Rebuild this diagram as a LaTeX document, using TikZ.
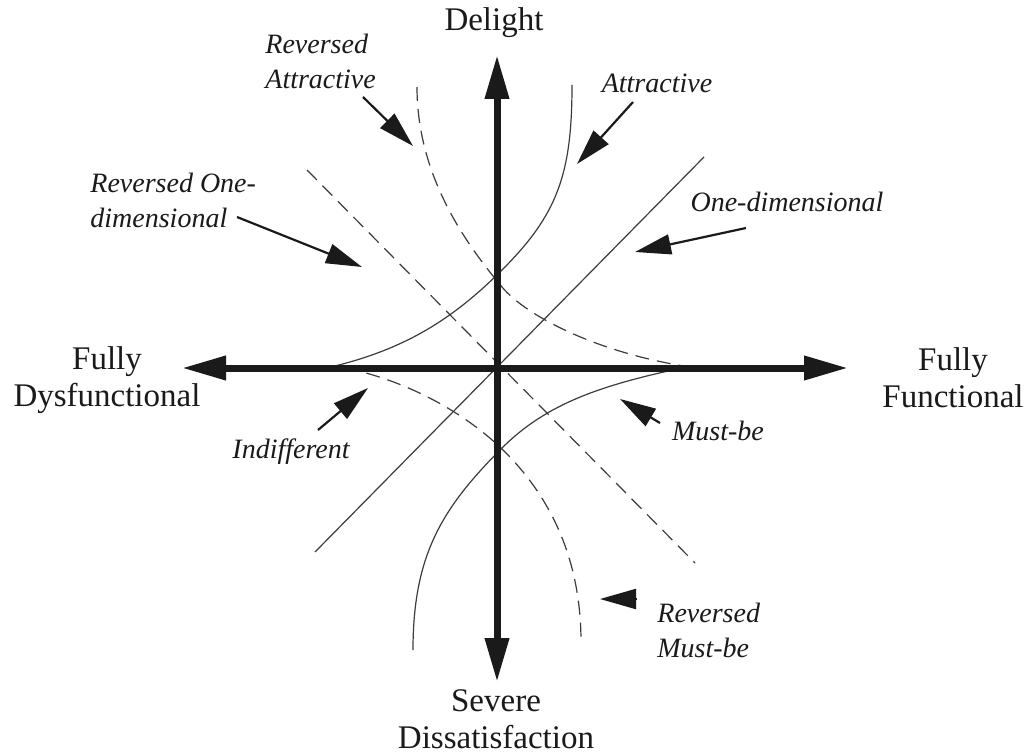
\documentclass[tikz,border=0pt]{standalone}
\usepackage{fontspec}
\setmainfont{Liberation Serif}
\usepackage{tikz}
\usetikzlibrary{arrows.meta,positioning}
\definecolor{kanoInk}{HTML}{1A1A1A}
\definecolor{kanoLine}{HTML}{3C3C3C}
\tikzset{
  kanoaxis/.style={line width=3.5pt, kanoInk,
    {Triangle[length=22pt,width=11.5pt]}-{Triangle[length=22pt,width=11.5pt]}},
  fnline/.style={line width=0.6pt, kanoLine},
  revline/.style={fnline, dash pattern=on 7pt off 4pt},
  pointer/.style={line width=1.1pt, kanoInk, -{Triangle[length=18pt,width=10pt]}},
  axislabel/.style={font=\fontsize{16.5}{18.5}\selectfont, text=kanoInk, align=center, inner sep=0pt},
  catlabel/.style={font=\fontsize{14}{17.5}\selectfont\itshape, text=kanoInk, align=left, inner sep=0pt}
}
\begin{document}
\begin{tikzpicture}[x=0.5pt, y=-0.5pt]
  \fill[white] (0,0) rectangle (1031,753);
  % axis ends
  \coordinate (o) at (497,368);
  \coordinate (top) at (497,55);
  \coordinate (bot) at (497,682);
  \coordinate (lft) at (182,368);
  \coordinate (rgt) at (848,368);
  % quality curves
  \draw[fnline] (315,552) -- (704,157);
  \draw[revline] (307,170) -- (695,563);
  \draw[fnline] (335,366) .. controls (405,348.5) and (452,320) .. (502,270)
                          .. controls (557,215) and (572,175) .. (572,85);
  \draw[fnline] (677,369) .. controls (602,385.5) and (547,403) .. (502,448)
                          .. controls (442,508) and (413,555) .. (413,650);
  \draw[revline] (417,87) .. controls (417,177) and (467,245) .. (502,287)
                          .. controls (527,317) and (600,353.5) .. (690,367);
  \draw[revline] (345,368) .. controls (405,380) and (465,412) .. (505,452)
                          .. controls (545,492) and (581,552) .. (581,642);
  % axes
  \draw[kanoaxis] (lft) -- (rgt);
  \draw[kanoaxis] (bot) -- (top);
  \node[axislabel] (delight) at (494,23) {Delight};
  \node[axislabel] (severe) at (496,719) {Severe\\Dissatisfaction};
  \node[axislabel] (dysf) at (107,380) {Fully\\Dysfunctional};
  \node[axislabel] (func) at (953,378) {Fully\\Functional};
  % category labels
  \node[catlabel, anchor=west] (lblRevAtt) at (265,61) {Reversed\\Attractive};
  \node[catlabel] (lblAtt) at (657,83) {Attractive};
  \node[catlabel, anchor=west] (lblRevOne) at (90,200) {Reversed One-\\dimensional};
  \node[catlabel] (lblOne) at (787,202) {One-dimensional};
  \node[catlabel] (lblInd) at (291,452) {Indifferent};
  \node[catlabel] (lblMust) at (718,431) {Must-be};
  \node[catlabel, anchor=west] (lblRevMust) at (657,630) {Reversed\\Must-be};
  % pointers: p = tail, t = tip
  \coordinate (pRevAtt) at (363,97);   \coordinate (tRevAtt) at (413,146);
  \coordinate (pAtt) at (633,102);     \coordinate (tAtt) at (577,164);
  \coordinate (pRevOne) at (237,217);  \coordinate (tRevOne) at (362,267);
  \coordinate (pOne) at (746,228);     \coordinate (tOne) at (635,252);
  \coordinate (pInd) at (318,430);     \coordinate (tInd) at (368,388);
  \coordinate (pMust) at (660,423);    \coordinate (tMust) at (620,399);
  \coordinate (pRevMust) at (637,599); \coordinate (tRevMust) at (600,599);
  \foreach \n in {RevAtt,Att,RevOne,One,Ind,Must,RevMust}{\draw[pointer] (p\n) -- (t\n);}
\end{tikzpicture}
\end{document}
